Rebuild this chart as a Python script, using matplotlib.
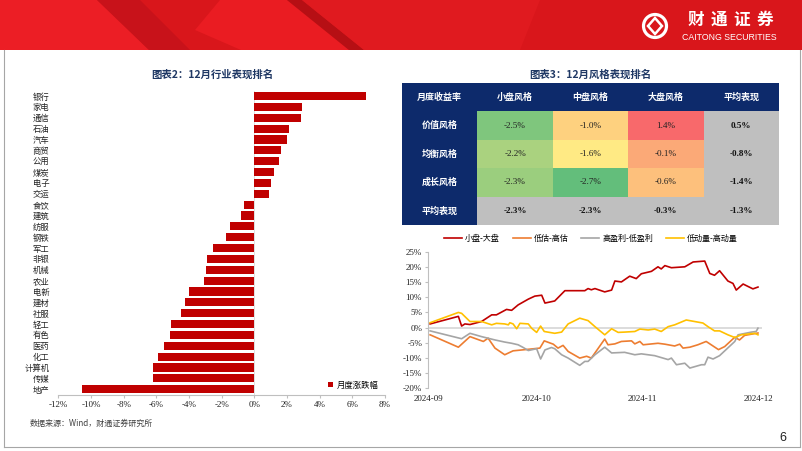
import numpy as np
import matplotlib
matplotlib.use("Agg")
import matplotlib.pyplot as plt
from matplotlib.patches import Rectangle, Polygon, Circle
from matplotlib.colors import LinearSegmentedColormap, TwoSlopeNorm

plt.rcParams['font.family'] = ['Liberation Serif', 'Noto Sans CJK SC']
plt.rcParams['axes.unicode_minus'] = False
CJK = 'Noto Sans CJK SC'

# ---- 图表2: 12月行业表现排名 ----
industries = ['银行', '家电', '通信', '石油', '汽车', '商贸', '公用', '煤炭', '电子', '交运',
              '食饮', '建筑', '纺服', '钢铁', '军工', '非银', '机械', '农业', '电新', '建材',
              '社服', '轻工', '有色', '医药', '化工', '计算机', '传媒', '地产']
monthly_chg = [6.83, 2.92, 2.85, 2.10, 1.98, 1.65, 1.49, 1.22, 1.00, 0.88,
               -0.63, -0.84, -1.49, -1.76, -2.51, -2.92, -2.95, -3.06, -3.98, -4.26,
               -4.48, -5.08, -5.14, -5.50, -5.91, -6.20, -6.22, -10.52]

# ---- 图表3: 12月风格表现排名 ----
style_rows = ['价值风格', '均衡风格', '成长风格']
style_cols = ['小盘风格', '中盘风格', '大盘风格']
style_ret = [[-2.5, -1.0, 1.4],
             [-2.2, -1.6, -0.1],
             [-2.3, -2.7, -0.6]]
row_avg = [0.5, -0.8, -1.4]
col_avg = [-2.3, -2.3, -0.3]
all_avg = -1.3

# ---- 风格因子累计收益 (x: 自2024-09-01起的天数) ----
small_big_x = [0.5, 8.3, 9.2, 10.1, 11.5, 14.7, 17.5, 18.8, 21.6, 23.0, 24.8, 27.6, 29.4, 31.3,
               32.2, 34.9, 37.7, 40.4, 43.2, 44.1, 45.0, 46.0, 48.7, 50.6, 51.5, 53.3, 55.6,
               57.4, 58.8, 61.6, 63.4, 64.3, 65.3, 67.1, 70.8, 73.1, 76.3, 77.7, 79.0, 80.4,
               82.7, 84.1, 85.0, 86.9, 89.6, 91.0]
small_big = [1.2, 3.7, 0.5, 1.2, 1.0, 2.0, 4.2, 4.2, 6.0, 5.7, 7.5, 9.4, 10.4, 10.7,
             8.1, 8.8, 12.2, 12.2, 12.2, 12.9, 12.5, 12.9, 11.8, 12.4, 15.4, 15.1, 17.0,
             16.2, 17.8, 18.6, 20.1, 19.4, 20.5, 19.8, 20.1, 21.7, 22.0, 17.9, 17.3, 18.8,
             15.4, 14.6, 12.4, 14.4, 12.8, 13.4]

value_x = [0.5, 8.3, 11.5, 15.2, 16.5, 18.4, 21.1, 23.4, 27.6, 30.8, 32.0, 34.5, 35.8, 37.2,
           38.6, 41.8, 43.7, 45.0, 48.7, 49.6, 51.5, 53.3, 56.1, 57.0, 58.4, 59.3, 63.4,
           65.3, 68.0, 69.4, 70.3, 72.2, 74.4, 76.7, 80.1, 81.8, 84.6, 85.9, 87.3, 91.0]
value = [-2.4, -6.5, -3.0, -4.6, -3.5, -6.8, -9.0, -7.7, -7.2, -6.8, -4.4, -5.5, -6.8, -5.9,
         -7.9, -10.1, -9.5, -10.1, -3.8, -5.7, -5.4, -4.6, -4.4, -5.4, -4.6, -5.7, -5.2,
         -5.5, -6.1, -5.5, -6.8, -6.5, -5.7, -4.6, -7.3, -6.3, -3.2, -4.1, -2.6, -1.8]

profit_x = [0.5, 9.2, 11.5, 14.7, 18.4, 21.1, 23.0, 24.8, 26.2, 27.6, 29.9, 31.0, 32.2, 34.0,
            34.9, 36.8, 38.6, 41.8, 43.2, 44.1, 46.0, 48.7, 50.6, 54.2, 57.0, 58.8, 62.5,
            66.2, 67.1, 68.5, 70.8, 72.2, 75.4, 76.3, 77.2, 78.6, 80.4, 84.6, 85.5, 89.2,
            90.5, 91.0]
profit = [-1.1, -3.7, -1.9, -3.0, -4.1, -4.8, -5.2, -5.7, -6.6, -7.6, -7.0, -10.4, -7.4, -6.6,
          -7.0, -9.0, -10.1, -12.5, -11.2, -11.2, -9.0, -6.5, -8.4, -8.2, -9.0, -8.7, -9.3,
          -10.6, -10.1, -12.3, -11.8, -13.4, -12.3, -12.3, -9.8, -10.4, -9.3, -4.6, -2.4, -1.5,
          -1.3, -0.2]

momentum_x = [0.5, 8.3, 9.2, 11.5, 14.7, 17.5, 18.8, 21.1, 22.1, 22.5, 23.4, 24.4, 25.3, 27.6,
              28.5, 29.9, 31.0, 32.0, 34.9, 36.8, 38.6, 41.8, 44.1, 46.0, 48.7, 50.6, 52.4,
              54.2, 57.0, 58.4, 60.7, 62.5, 64.3, 66.2, 68.0, 71.2, 73.5, 75.8, 77.2, 79.0,
              80.4, 82.7, 84.6, 86.4, 90.1, 91.0]
momentum = [1.6, 5.0, 4.7, 2.0, 2.0, 0.9, 1.4, 1.2, 0.9, 1.6, 1.2, -0.4, 1.4, 1.2,
            -0.2, -1.6, 0.5, -1.3, -1.9, -1.5, 1.2, 3.1, 2.3, 0.3, -2.4, -0.4, -1.6,
            -1.5, -1.3, -0.5, -0.8, -0.5, -1.3, 0.3, 0.9, 2.5, 2.0, 1.5, 0.3, -1.1,
            -1.1, -2.4, -3.3, -2.4, -1.9, -2.4]

month_pos = [0, 30, 59, 91]
month_labels = ['2024-09', '2024-10', '2024-11', '2024-12']

W, H = 802, 451
fig = plt.figure(figsize=(W / 100, H / 100), dpi=100)


def box(l, t, r, b):
    # pixel box (from top-left) -> figure rect
    return [l / W, 1 - b / H, (r - l) / W, (b - t) / H]


# background: banner, frame, logo
bg = fig.add_axes([0, 0, 1, 1], zorder=-1)
bg.set_xlim(0, W)
bg.set_ylim(H, 0)
bg.axis('off')
bg.add_patch(Rectangle((0, 0), W, 50, color='#D9161B', lw=0))
bg.add_patch(Polygon([(0, 0), (97, 0), (149, 50), (0, 50)], color='#EC1E25', lw=0))
bg.add_patch(Polygon([(97, 0), (140, 0), (190, 50), (149, 50)], color='#C8121A', lw=0))
bg.add_patch(Polygon([(220, 0), (287, 0), (349, 50), (241, 50), (195, 30)], color='#EA1C22', lw=0))
bg.add_patch(Polygon([(287, 0), (302, 0), (364, 50), (349, 50)], color='#B60F14', lw=0))
bg.add_patch(Polygon([(302, 0), (540, 0), (520, 50), (364, 50)], color='#E01A1F', lw=0))
bg.add_patch(Circle((655, 26), 11.5, fill=False, ec='white', lw=2.3))
bg.add_patch(Polygon([(655, 18), (662, 26), (655, 34), (648, 26)], fill=False, ec='white', lw=1.8))
for i, ch in enumerate('财通证券'):
    bg.text(696 + 23 * i, 20, ch, color='white', fontsize=12, fontweight='bold',
            fontfamily=CJK, ha='center', va='center')
bg.text(729, 37.5, 'CAITONG SECURITIES', color='white', fontsize=6.3,
        fontfamily='Liberation Sans', ha='center', va='center')
frame_c = '#A6A6A6'
bg.plot([4, 4], [50, 447], color=frame_c, lw=0.8)
bg.plot([4, 800], [447, 447], color=frame_c, lw=0.8)
bg.plot([800, 800], [50, 447], color=frame_c, lw=0.8)
bg.text(783, 438, '6', fontsize=9, fontfamily='Liberation Sans', ha='center', va='center', color='#222222')

title_c = '#1F3864'
fig.text(212 / W, 1 - 75 / H, '图表2：12月行业表现排名', ha='center', va='center',
         fontfamily=CJK, fontweight='bold', fontsize=7.5, color=title_c)
fig.text(590 / W, 1 - 75 / H, '图表3：12月风格表现排名', ha='center', va='center',
         fontfamily=CJK, fontweight='bold', fontsize=7.5, color=title_c)
fig.text(30 / W, 1 - 423 / H, '数据来源：Wind，财通证券研究所', ha='left', va='center',
         fontfamily=CJK, fontsize=5.8, color='#404040')

# ---- bar chart ----
ax1 = fig.add_axes(box(58.3, 90.6, 385, 394.7))
y = np.arange(len(industries))
ax1.barh(y, monthly_chg, height=0.75, color='#C00000', label='月度涨跌幅', zorder=2)
ax1.axvline(0, color='#D9D9D9', lw=0.6, zorder=1)
ax1.set_ylim(len(industries) - 0.5, -0.5)
ax1.set_xlim(-12, 8)
xt = np.arange(-12, 9, 2)
ax1.set_xticks(xt)
ax1.set_xticklabels([f'{v}%' for v in xt], fontsize=6.5)
ax1.set_yticks(y)
ax1.set_yticklabels(industries, fontfamily=CJK, fontsize=6, color='#222222')
ax1.tick_params(axis='y', length=0, pad=6.5)
ax1.tick_params(axis='x', length=2.5, color='#BFBFBF', pad=2, labelcolor='#222222')
for s in ['left', 'top', 'right']:
    ax1.spines[s].set_visible(False)
ax1.spines['bottom'].set_color('#BFBFBF')
ax1.legend(loc='center left', bbox_to_anchor=(324 / W, 1 - 385 / H), bbox_transform=fig.transFigure,
           frameon=False, prop={'family': CJK, 'size': 6}, handlelength=0.6, handleheight=0.6,
           handletextpad=0.4, borderpad=0)

# ---- style table ----
ax2 = fig.add_axes(box(402, 83, 779, 225))
ax2.set_xlim(0, 5)
ax2.set_ylim(5, 0)
ax2.axis('off')
navy = '#0D2A6B'
grey = '#BFBFBF'
cmap = LinearSegmentedColormap.from_list('gyr', ['#63BE7B', '#FFEB84', '#F8696B'])
flat = np.array(style_ret).ravel()
norm = TwoSlopeNorm(vmin=flat.min(), vcenter=np.median(flat), vmax=flat.max())

ax2.add_patch(Rectangle((0, 0), 5, 1, color=navy, lw=0))
ax2.add_patch(Rectangle((0, 0), 1, 5, color=navy, lw=0))
for j, lab in enumerate(['月度收益率'] + style_cols + ['平均表现']):
    ax2.text(j + 0.5, 0.5, lab, color='white', ha='center', va='center', fontfamily=CJK,
             fontsize=6.5, fontweight='bold')
for i, lab in enumerate(style_rows + ['平均表现']):
    ax2.text(0.5, i + 1.5, lab, color='white', ha='center', va='center', fontfamily=CJK,
             fontsize=6.5, fontweight='bold')
for i in range(3):
    for j in range(3):
        v = style_ret[i][j]
        ax2.add_patch(Rectangle((j + 1, i + 1), 1, 1, color=cmap(norm(v)), lw=0))
        ax2.text(j + 1.5, i + 1.5, f'{v:.1f}%', ha='center', va='center', fontsize=6.6, color='#222222')
    ax2.add_patch(Rectangle((4, i + 1), 1, 1, color=grey, lw=0))
    ax2.text(4.5, i + 1.5, f'{row_avg[i]:.1f}%', ha='center', va='center', fontsize=6.6,
             fontweight='bold', color='#111111')
for j in range(3):
    ax2.add_patch(Rectangle((j + 1, 4), 1, 1, color=grey, lw=0))
    ax2.text(j + 1.5, 4.5, f'{col_avg[j]:.1f}%', ha='center', va='center', fontsize=6.6,
             fontweight='bold', color='#111111')
ax2.add_patch(Rectangle((4, 4), 1, 1, color=grey, lw=0))
ax2.text(4.5, 4.5, f'{all_avg:.1f}%', ha='center', va='center', fontsize=6.6,
         fontweight='bold', color='#111111')

# ---- line chart ----
ax3 = fig.add_axes(box(428.3, 252, 761.6, 388))
ax3.axhline(0, color='#D9D9D9', lw=1.3, zorder=1)
ax3.plot(small_big_x, small_big, color='#C00000', lw=1.2, label='小盘-大盘', zorder=3)
ax3.plot(value_x, value, color='#ED7D31', lw=1.2, label='低估-高估', zorder=3)
ax3.plot(profit_x, profit, color='#A5A5A5', lw=1.2, label='高盈利-低盈利', zorder=3)
ax3.plot(momentum_x, momentum, color='#FFC000', lw=1.2, label='低动量-高动量', zorder=3)
ax3.set_xlim(0, 92)
ax3.set_ylim(-20, 25)
yt = np.arange(-20, 26, 5)
ax3.set_yticks(yt)
ax3.set_yticklabels([f'{v}%' for v in yt], fontsize=6.5, color='#222222')
ax3.set_xticks(month_pos)
ax3.set_xticklabels(month_labels, fontsize=6.5, color='#222222')
ax3.tick_params(axis='x', length=0, pad=5)
ax3.tick_params(axis='y', length=2.5, color='#BFBFBF', pad=2)
for s in ['bottom', 'top', 'right']:
    ax3.spines[s].set_visible(False)
ax3.spines['left'].set_color('#BFBFBF')
ax3.legend(ncol=4, loc='center', bbox_to_anchor=(591 / W, 1 - 238 / H), bbox_transform=fig.transFigure,
           frameon=False, prop={'family': CJK, 'size': 5.8}, handlelength=2.2, columnspacing=1.6,
           handletextpad=0.4, borderpad=0)

fig.savefig('out.png', dpi=100)
